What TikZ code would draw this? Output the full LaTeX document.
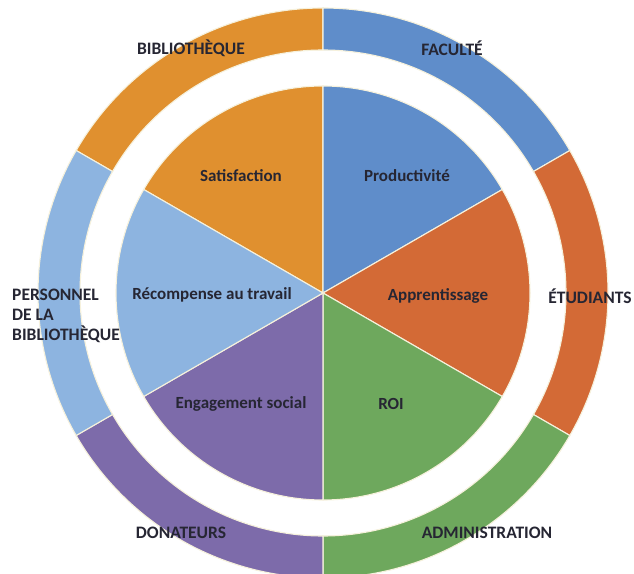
\documentclass[tikz,border=0pt]{standalone}
\usepackage{fontspec}
\setmainfont{Carlito}
\usetikzlibrary{positioning}

\definecolor{satorange}{HTML}{E0902F}
\definecolor{prodblue}{HTML}{5F8DCA}
\definecolor{apprust}{HTML}{D36A36}
\definecolor{roigreen}{HTML}{6EA85D}
\definecolor{engpurple}{HTML}{7D6BAA}
\definecolor{recblue}{HTML}{8DB4E0}
\definecolor{seam}{HTML}{F6F1DC}
\definecolor{labeltext}{HTML}{262633}

\begin{document}
\begin{tikzpicture}[
    x=1pt, y=1pt,
    slice/.style={draw=seam, line width=1.1pt, line join=round},
    ring/.style={draw=seam, line width=1.1pt},
    value/.style={font=\fontsize{17}{20}\selectfont\bfseries, text=labeltext, inner sep=1pt},
    group/.style={font=\fontsize{17.5}{20}\selectfont\bfseries, text=labeltext, inner sep=1pt},
]

\useasboundingbox (0,0) rectangle (634,573);
\fill[white] (0,0) rectangle (634,573);

%==================== OUTER RING (stakeholders) ====================

\begin{scope}[shift={(323,280)}]
  \filldraw[ring, fill=satorange] (90:285pt)  arc[start angle=90,  end angle=150, radius=285pt] -- (150:243pt) arc[start angle=150, end angle=90,  radius=243pt] -- cycle;
  \filldraw[ring, fill=prodblue]  (30:285pt)  arc[start angle=30,  end angle=90,  radius=285pt] -- (90:243pt)  arc[start angle=90,  end angle=30,  radius=243pt] -- cycle;
  \filldraw[ring, fill=apprust]   (-30:285pt) arc[start angle=-30, end angle=30,  radius=285pt] -- (30:243pt)  arc[start angle=30,  end angle=-30, radius=243pt] -- cycle;
  \filldraw[ring, fill=roigreen]  (-90:285pt) arc[start angle=-90, end angle=-30, radius=285pt] -- (-30:243pt) arc[start angle=-30, end angle=-90, radius=243pt] -- cycle;
  \filldraw[ring, fill=engpurple] (210:285pt) arc[start angle=210, end angle=270, radius=285pt] -- (270:243pt) arc[start angle=270, end angle=210, radius=243pt] -- cycle;
  \filldraw[ring, fill=recblue]   (150:285pt) arc[start angle=150, end angle=210, radius=285pt] -- (210:243pt) arc[start angle=210, end angle=150, radius=243pt] -- cycle;

%==================== INNER PIE (values) ====================

  \coordinate (hub) at (0,0);
  \filldraw[slice, fill=satorange] (hub) -- (90:207pt)  arc[start angle=90,  end angle=150, radius=207pt] -- cycle;
  \filldraw[slice, fill=prodblue]  (hub) -- (30:207pt)  arc[start angle=30,  end angle=90,  radius=207pt] -- cycle;
  \filldraw[slice, fill=apprust]   (hub) -- (-30:207pt) arc[start angle=-30, end angle=30,  radius=207pt] -- cycle;
  \filldraw[slice, fill=roigreen]  (hub) -- (-90:207pt) arc[start angle=-90, end angle=-30, radius=207pt] -- cycle;
  \filldraw[slice, fill=engpurple] (hub) -- (210:207pt) arc[start angle=210, end angle=270, radius=207pt] -- cycle;
  \filldraw[slice, fill=recblue]   (hub) -- (150:207pt) arc[start angle=150, end angle=210, radius=207pt] -- cycle;
\end{scope}

%==================== VALUE LABELS ====================

\node[value] (satis) at (241,397) {Satisfaction};
\node[value] (prod)  at (407,397) {Productivité};
\node[value] (recomp) at (212,278) {Récompense au travail};
\node[value] (appr)  at (438,277) {Apprentissage};
\node[value] (engag) at (241,169) {Engagement social};
\node[value] (roi)   at (391,169) {ROI};

%==================== STAKEHOLDER LABELS ====================

\node[group] (biblio) at (191,525) {BIBLIOTHÈQUE};
\node[group] (fac)    at (452,525) {FACULTÉ};
\node[group] (etud)   at (590,277) {ÉTUDIANTS};
\node[group] (admin)  at (487,40)  {ADMINISTRATION};
\node[group] (donat)  at (181,40)  {DONATEURS};
\node[group, align=left, anchor=north west] (pers) at (11,285) {PERSONNEL\\DE LA\\BIBLIOTHÈQUE};

\end{tikzpicture}
\end{document}
